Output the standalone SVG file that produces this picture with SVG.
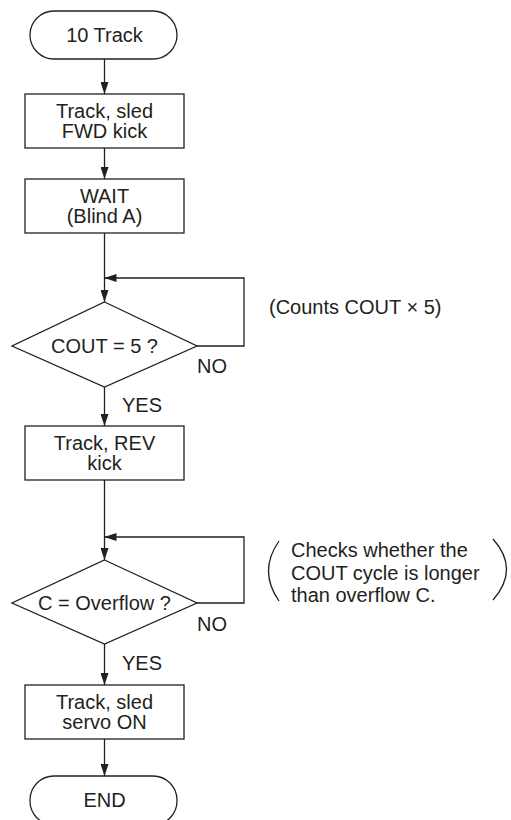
<svg xmlns="http://www.w3.org/2000/svg" width="511" height="820" viewBox="0 0 511 820">
<defs>
<style>
.s{fill:#fff;stroke:#231f20;stroke-width:1.3}
.t{font-family:"Liberation Sans",Arial,sans-serif;font-size:20px;fill:#231f20;text-anchor:middle}
.l{font-family:"Liberation Sans",Arial,sans-serif;font-size:20px;fill:#231f20}
.c{fill:none;stroke:#231f20;stroke-width:1.3}
</style>
<marker id="ah" viewBox="0 0 12 8" refX="12" refY="4" markerWidth="12" markerHeight="8" markerUnits="userSpaceOnUse" orient="auto">
<path d="M0,0 L12,4 L0,8 z" fill="#231f20"/>
</marker>
</defs>
<rect width="511" height="820" fill="#fff"/>
<g id="connectors">
<line class="c" x1="104.5" y1="59" x2="104.5" y2="94" marker-end="url(#ah)"/>
<line class="c" x1="104.5" y1="148" x2="104.5" y2="179" marker-end="url(#ah)"/>
<line class="c" x1="104.5" y1="233" x2="104.5" y2="302" marker-end="url(#ah)"/>
<polyline class="c" points="197,346 244,346 244,278 104.5,278" marker-end="url(#ah)"/>
<line class="c" x1="104.5" y1="387" x2="104.5" y2="426" marker-end="url(#ah)"/>
<line class="c" x1="104.5" y1="480" x2="104.5" y2="560" marker-end="url(#ah)"/>
<polyline class="c" points="197,603 244,603 244,537 104.5,537" marker-end="url(#ah)"/>
<line class="c" x1="104.5" y1="644" x2="104.5" y2="685" marker-end="url(#ah)"/>
<line class="c" x1="104.5" y1="739" x2="104.5" y2="776" marker-end="url(#ah)"/>
<text class="l" x="197" y="373">NO</text>
<text class="l" x="122" y="412">YES</text>
<text class="l" x="197" y="631">NO</text>
<text class="l" x="122" y="670">YES</text>
</g>
<g id="start">
<rect class="s" x="30" y="11" width="147" height="48" rx="24" ry="24"/>
<text class="t" x="104.5" y="42">10 Track</text>
</g>
<g id="fwd-kick">
<rect class="s" x="25" y="94" width="159" height="54"/>
<text class="t" x="104.5" y="118">Track, sled</text>
<text class="t" x="104.5" y="138">FWD kick</text>
</g>
<g id="wait">
<rect class="s" x="25" y="179" width="159" height="54"/>
<text class="t" x="104.5" y="203">WAIT</text>
<text class="t" x="104.5" y="223">(Blind A)</text>
</g>
<g id="cout-check">
<polygon class="s" points="104.5,302 197,346 104.5,387 12,346"/>
<text class="t" x="104.5" y="353">COUT = 5 ?</text>
</g>
<g id="note-counts">
<text class="l" x="269" y="314">(Counts COUT × 5)</text>
</g>
<g id="rev-kick">
<rect class="s" x="25" y="426" width="159" height="54"/>
<text class="t" x="104.5" y="449.5">Track, REV</text>
<text class="t" x="104.5" y="469.5">kick</text>
</g>
<g id="overflow-check">
<polygon class="s" points="104.5,560 197,603 104.5,644 12,603"/>
<text class="t" x="104.5" y="610">C = Overflow ?</text>
</g>
<g id="note-overflow">
<path class="c" d="M279,541 Q258,571 279,601" stroke-width="1"/>
<path class="c" d="M493,539 Q520,569 493,600" stroke-width="1"/>
<text class="l" x="291" y="557">Checks whether the</text>
<text class="l" x="291" y="580">COUT cycle is longer</text>
<text class="l" x="291" y="602">than overflow C.</text>
</g>
<g id="servo-on">
<rect class="s" x="25" y="685" width="159" height="54"/>
<text class="t" x="104.5" y="708.5">Track, sled</text>
<text class="t" x="104.5" y="728.5">servo ON</text>
</g>
<g id="end">
<rect class="s" x="30" y="776" width="147" height="49" rx="24" ry="24"/>
<text class="t" x="104.5" y="807">END</text>
</g>
</svg>
